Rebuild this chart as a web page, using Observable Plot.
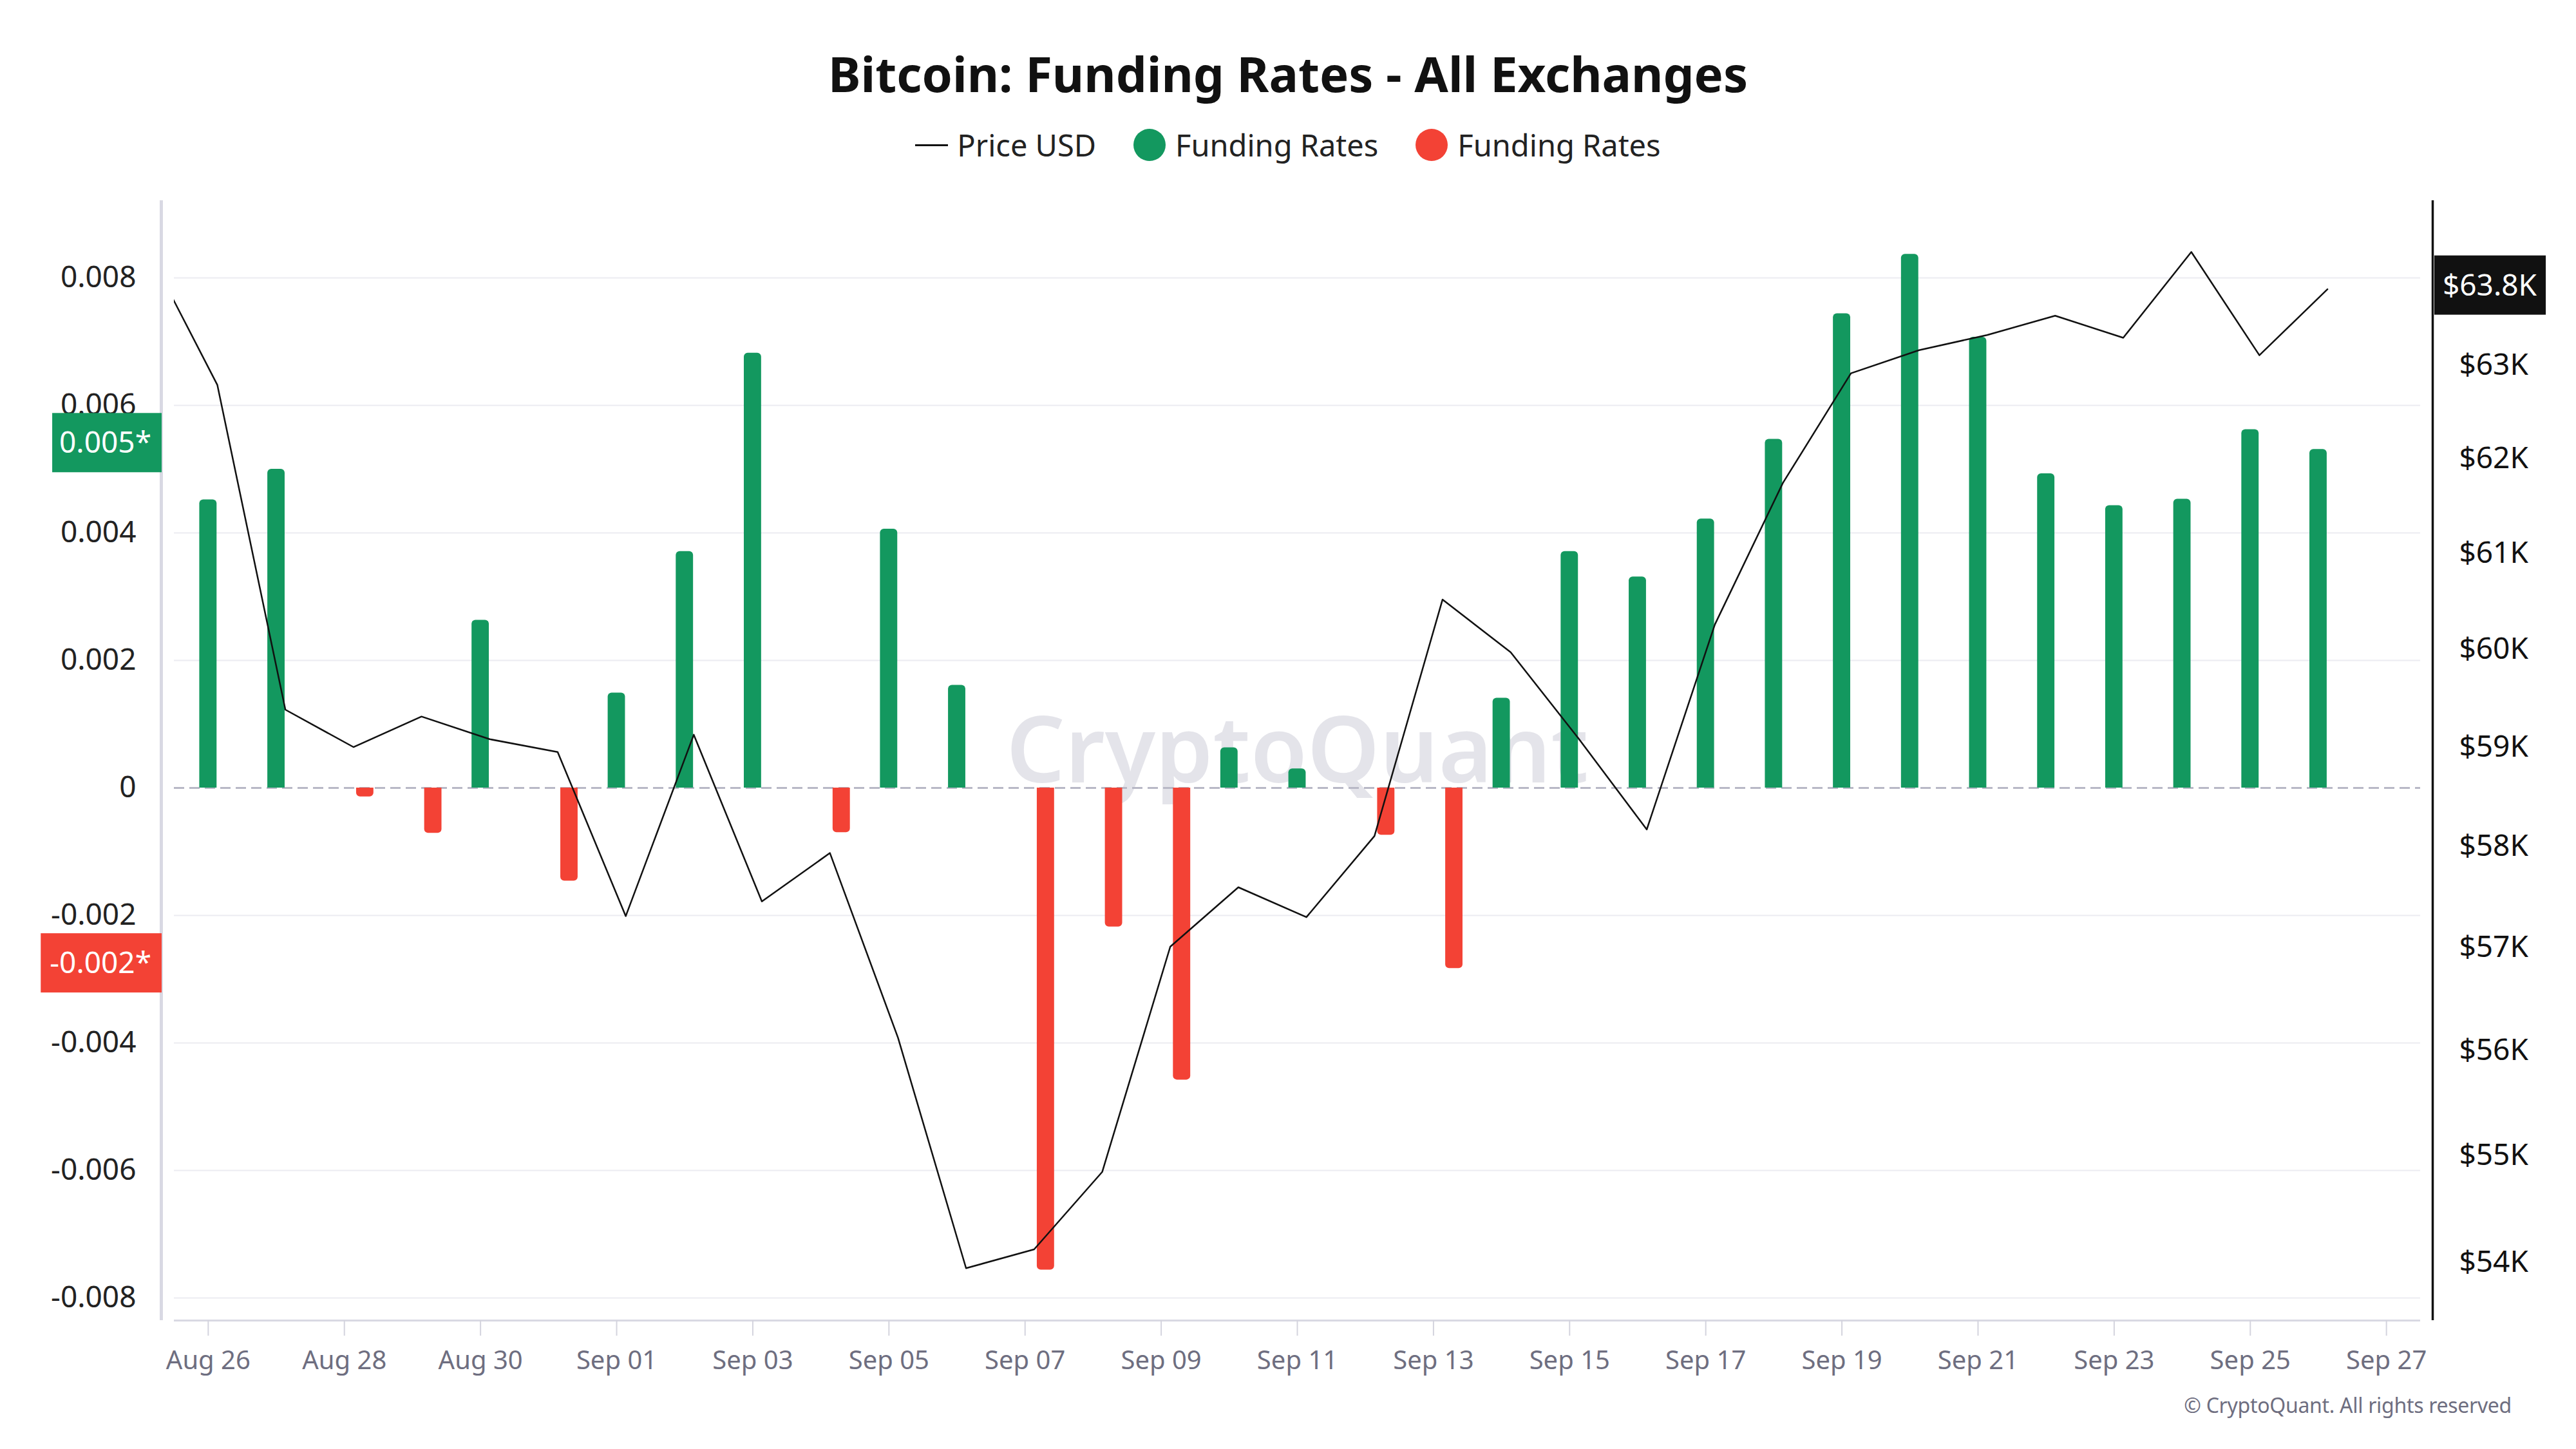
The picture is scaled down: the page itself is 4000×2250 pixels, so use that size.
<!DOCTYPE html>
<html>
<head>
<meta charset="utf-8">
<script src="https://cdn.jsdelivr.net/npm/d3@7"></script>
<script src="https://cdn.jsdelivr.net/npm/@observablehq/plot@0.6"></script>
<style>
html, body { margin: 0; padding: 0; background: #fff; }
body { width: 4000px; height: 2250px; position: relative; overflow: hidden; font-family: "Noto Sans", sans-serif; }
#title { position: absolute; top: 62px; left: 0; width: 4000px; text-align: center; font-size: 76px; font-weight: 700; color: #111; line-height: normal; }
#legend { position: absolute; top: 193px; left: 0; width: 4000px; display: flex; justify-content: center; align-items: center; font-size: 47px; color: #222; line-height: normal; }
#legend .item { display: flex; align-items: center; margin: 0 29px; }
#legend .ln { display: inline-block; width: 51px; height: 3px; background: #111; margin-right: 14px; }
#legend .dot { display: inline-block; width: 50px; height: 50px; border-radius: 50%; margin-right: 15px; }
.chart { position: absolute; left: 0; top: 270px; }
#credit { position: absolute; right: 100px; top: 2160px; font-size: 32px; color: #6e6e80; line-height: normal; letter-spacing: -0.3px; }
</style>
</head>
<body>
<div id="title">Bitcoin: Funding Rates - All Exchanges</div>
<div id="legend">
  <span class="item"><span class="ln"></span>Price USD</span>
  <span class="item"><span class="dot" style="background:#13985f"></span>Funding Rates</span>
  <span class="item"><span class="dot" style="background:#f34235"></span>Funding Rates</span>
</div>
<div id="c1" class="chart"></div>
<div id="c2" class="chart"></div>
<div id="credit">© CryptoQuant. All rights reserved</div>
<script>
// ---------- data ----------
const dates = [
  "2024-08-26","2024-08-27","2024-08-28","2024-08-29","2024-08-30","2024-08-31",
  "2024-09-01","2024-09-02","2024-09-03","2024-09-04","2024-09-05","2024-09-06",
  "2024-09-07","2024-09-08","2024-09-09","2024-09-10","2024-09-11","2024-09-12",
  "2024-09-13","2024-09-14","2024-09-15","2024-09-16","2024-09-17","2024-09-18",
  "2024-09-19","2024-09-20","2024-09-21","2024-09-22","2024-09-23","2024-09-24",
  "2024-09-25","2024-09-26"
];
const fundingRates = [
  0.00452, 0.00500, -0.00014, -0.00071, 0.00263, -0.00146,
  0.00149, 0.00371, 0.00682, -0.00070, 0.00406, 0.00161,
  -0.00756, -0.00218, -0.00458, 0.00063, 0.00030, -0.00074,
  -0.00283, 0.00141, 0.00371, 0.00331, 0.00422, 0.00547,
  0.00744, 0.00837, 0.00707, 0.00493, 0.00443, 0.00453,
  0.00562, 0.00531
];
const priceDates = [
  "2024-08-25","2024-08-26","2024-08-27","2024-08-28","2024-08-29","2024-08-30","2024-08-31",
  "2024-09-01","2024-09-02","2024-09-03","2024-09-04","2024-09-05","2024-09-06",
  "2024-09-07","2024-09-08","2024-09-09","2024-09-10","2024-09-11","2024-09-12",
  "2024-09-13","2024-09-14","2024-09-15","2024-09-16","2024-09-17","2024-09-18",
  "2024-09-19","2024-09-20","2024-09-21","2024-09-22","2024-09-23","2024-09-24",
  "2024-09-25","2024-09-26"
];
const priceUSD = [
  64230, 62790, 59380, 59000, 59310, 59080, 58950,
  57310, 59125, 57455, 57935, 56125, 53945,
  54120, 54845, 57010, 57595, 57300, 58105,
  60515, 59970, 59085, 58170, 60255, 61740,
  62915, 63165, 63330, 63540, 63300, 64240,
  63110, 63830
];
const leftTicks = [-0.008, -0.006, -0.004, -0.002, 0, 0.002, 0.004, 0.006, 0.008];
const rightTicks = [54000, 55000, 56000, 57000, 58000, 59000, 60000, 61000, 62000, 63000];
const xTicks = [
  "2024-08-26","2024-08-28","2024-08-30","2024-09-01","2024-09-03","2024-09-05",
  "2024-09-07","2024-09-09","2024-09-11","2024-09-13","2024-09-15","2024-09-17",
  "2024-09-19","2024-09-21","2024-09-23","2024-09-25","2024-09-27"
];

// ---------- setup ----------
const GREEN = "#13985f", RED = "#f34235";
const HOUR = 3600e3;
const day = s => new Date(s + "T00:00:00Z");
const fmtDate = d3.utcFormat("%b %d");

const bars = dates.map((d, i) => ({date: day(d), value: fundingRates[i]}));
const pos = bars.filter(d => d.value >= 0);
const neg = bars.filter(d => d.value < 0);
const prices = priceDates.map((d, i) => ({date: new Date(+day(d) + 3.2 * HOUR), price: priceUSD[i]}));

const W = 4000, H = 1890;
const M = {marginTop: 41, marginRight: 242, marginBottom: 110, marginLeft: 270};
const xDomain = [new Date("2024-08-25T12:00:00Z"), new Date("2024-09-27T12:00:00Z")];
const yDomain = [-0.008354, 0.009212];
const pDomain = [53462, 64810];
const FONT = '"Noto Sans", sans-serif';
const rateFmt = d => d === 0 ? "0" : d.toFixed(3);

const chart1 = Plot.plot({
  width: W, height: H, ...M,
  style: {fontFamily: FONT, background: "transparent", overflow: "visible"},
  x: {type: "utc", domain: xDomain},
  y: {domain: yDomain},
  marks: [
    Plot.gridY(leftTicks.filter(t => t !== 0), {stroke: "#ececf1", strokeOpacity: 1, strokeWidth: 2}),
    Plot.text(["CryptoQuant"], {text: d => d, frameAnchor: "middle", dy: -12, fontSize: 143, fontWeight: 600, fill: "#e4e4ea"}),
    Plot.ruleY([0], {stroke: "#b8b8c6", strokeWidth: 3, strokeDasharray: "16,8"}),
    Plot.rect(pos, {
      x1: d => new Date(+d.date - 3.05 * HOUR), x2: d => new Date(+d.date + 3.05 * HOUR),
      y1: 0, y2: "value", fill: GREEN, ry2: 6
    }),
    Plot.rect(neg, {
      x1: d => new Date(+d.date + 4.25 * HOUR), x2: d => new Date(+d.date + 10.35 * HOUR),
      y1: 0, y2: "value", fill: RED, ry2: 6
    }),
    Plot.ruleX([xDomain[0]], {dx: -20, stroke: "#d9d9e3", strokeWidth: 5}),
    Plot.ruleY([yDomain[0]], {stroke: "#d9d9e3", strokeWidth: 3}),
    Plot.axisY(leftTicks, {tickSize: 0, tickPadding: 59, tickFormat: rateFmt, fontSize: 46, fill: "#222", label: null}),
    Plot.axisX(xTicks.map(day), {tickSize: 24, tickPadding: 23, tickFormat: fmtDate, fontSize: 40,
      stroke: "#d4d4de", strokeWidth: 2, fill: "#6e6e80", label: null})
  ]
});
document.getElementById("c1").appendChild(chart1);

const chart2 = Plot.plot({
  width: W, height: H, ...M,
  style: {fontFamily: FONT, background: "transparent", overflow: "visible"},
  x: {type: "utc", domain: xDomain, axis: null},
  y: {type: "log", domain: pDomain},
  marks: [
    Plot.line(prices, {x: "date", y: "price", stroke: "#111", strokeWidth: 2.5, clip: true}),
    Plot.ruleX([xDomain[1]], {dx: 19, stroke: "#111", strokeWidth: 3.5}),
    Plot.axisY(rightTicks, {anchor: "right", tickSize: 0, tickPadding: 60,
      tickFormat: d => `$${d / 1000}K`, fontSize: 46, fill: "#111", label: null})
  ]
});
document.getElementById("c2").appendChild(chart2);

// ---------- value tags (positioned through the plots' own scales) ----------
function tag(chart, yPix, label, fill, side, edge, padL, padR) {
  const svg = d3.select(chart);
  const g = svg.append("g").attr("font-family", FONT).attr("font-size", 46);
  const t = g.append("text").attr("fill", "#fff").attr("dy", "0.35em").attr("y", yPix).text(label);
  const len = t.node().getComputedTextLength();
  const h = 92;
  let x0;
  if (side === "left") {
    x0 = edge - len - padL - padR;
    t.attr("x", edge - padR).attr("text-anchor", "end");
  } else {
    x0 = edge;
    t.attr("x", edge + padL).attr("text-anchor", "start");
  }
  g.insert("rect", "text").attr("x", x0).attr("y", yPix - h / 2).attr("width", len + padL + padR).attr("height", h).attr("fill", fill);
}
const ys1 = chart1.scale("y");
const ys2 = chart2.scale("y");
const lastPos = pos[pos.length - 1].value;
const lastNeg = neg[neg.length - 1].value;
const lastPrice = priceUSD[priceUSD.length - 1];
const trunc3 = v => (Math.trunc(v * 1000) / 1000).toFixed(3);
tag(chart1, ys1.apply(lastPos) - 10, trunc3(lastPos) + "*", GREEN, "left", 251, 11, 16);
tag(chart1, ys1.apply(lastNeg) - 8, trunc3(lastNeg) + "*", RED, "left", 251, 14, 16);
tag(chart2, ys2.apply(lastPrice) - 6, `$${(Math.trunc(lastPrice / 100) / 10).toFixed(1)}K`, "#111", "right", 3780, 13, 14);
</script>
</body>
</html>
